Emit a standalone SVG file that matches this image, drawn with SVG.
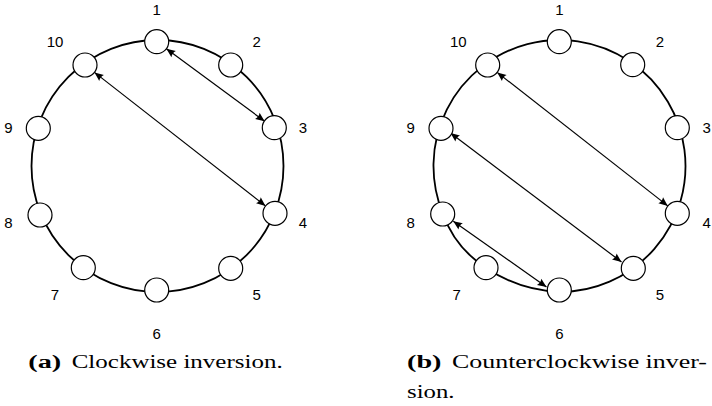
<svg xmlns="http://www.w3.org/2000/svg" width="712" height="406" viewBox="0 0 712 406">
<style>
.ring{fill:none;stroke:#000;stroke-width:1.8}
.node{fill:#fff;stroke:#000;stroke-width:1.2}
.lbl{font-family:"Liberation Sans",Arial,sans-serif;font-size:15px;fill:#000;text-anchor:middle}
.cap{font-family:"Liberation Serif","Times New Roman",serif;font-size:18.5px;fill:#000}
.capb{font-family:"Liberation Serif","Times New Roman",serif;font-size:18.5px;font-weight:bold;fill:#000}
.arr{fill:none;stroke:#000;stroke-width:1.2;marker-start:url(#ah);marker-end:url(#ah)}
</style>
<defs>
<marker id="ah" viewBox="-10 -5 11 10" refX="0" refY="0" markerWidth="11" markerHeight="10" markerUnits="userSpaceOnUse" orient="auto-start-reverse">
<path d="M0,0 L-9,-3.8 Q-7,0 -9,3.8 Z" fill="#000"/>
</marker>
</defs>

<!-- Panel (a) -->
<g id="panel-a">
<circle class="ring" cx="157.5" cy="166" r="126"/>
<g id="connectors-a">
<line class="arr" x1="166.4" y1="48.8" x2="264.6" y2="121.2"/>
<line class="arr" x1="94.5" y1="72.4" x2="265.5" y2="205.9"/>
</g>
<g id="a-n1"><circle class="node" cx="156.7" cy="41.7" r="12"/><text class="lbl" x="156.7" y="15.2">1</text></g>
<g id="a-n2"><circle class="node" cx="230.7" cy="65" r="12"/><text class="lbl" x="256.7" y="47.1">2</text></g>
<g id="a-n3"><circle class="node" cx="274.3" cy="127.7" r="12"/><text class="lbl" x="303" y="133.4">3</text></g>
<g id="a-n4"><circle class="node" cx="275" cy="213.3" r="12"/><text class="lbl" x="303" y="228.1">4</text></g>
<g id="a-n5"><circle class="node" cx="230.7" cy="268.3" r="12"/><text class="lbl" x="256.7" y="300.4">5</text></g>
<g id="a-n6"><circle class="node" cx="156.7" cy="290" r="12"/><text class="lbl" x="156.7" y="338.7">6</text></g>
<g id="a-n7"><circle class="node" cx="83.3" cy="267.7" r="12"/><text class="lbl" x="55" y="300.4">7</text></g>
<g id="a-n8"><circle class="node" cx="40" cy="215" r="12"/><text class="lbl" x="8.3" y="228.1">8</text></g>
<g id="a-n9"><circle class="node" cx="38.3" cy="128.3" r="12"/><text class="lbl" x="8.3" y="133.1">9</text></g>
<g id="a-n10"><circle class="node" cx="85" cy="65" r="12"/><text class="lbl" x="55" y="47.1">10</text></g>
<text class="capb" x="28.3" y="368" textLength="33" lengthAdjust="spacingAndGlyphs">(a)</text>
<text class="cap" x="71.7" y="368" textLength="211" lengthAdjust="spacingAndGlyphs">Clockwise inversion.</text>
</g>

<!-- Panel (b) -->
<g id="panel-b">
<path class="ring" d="M442.7,213.3 A126,126 0 1 1 560,292 Q519,290.4 486,267.7 Q455,248 442.7,213.3"/>
<g id="connectors-b">
<line class="arr" x1="497.2" y1="72.4" x2="667.8" y2="205.9"/>
<line class="arr" x1="450.5" y1="133" x2="621.5" y2="262"/>
<line class="arr" x1="453.3" y1="221.2" x2="546.5" y2="287"/>
</g>
<g id="b-n1"><circle class="node" cx="559.3" cy="41.7" r="12"/><text class="lbl" x="559.3" y="15.4">1</text></g>
<g id="b-n2"><circle class="node" cx="632.7" cy="64.7" r="12"/><text class="lbl" x="660" y="47.1">2</text></g>
<g id="b-n3"><circle class="node" cx="677.3" cy="127.7" r="12"/><text class="lbl" x="706.7" y="133.1">3</text></g>
<g id="b-n4"><circle class="node" cx="677.3" cy="213.3" r="12"/><text class="lbl" x="706.7" y="228.1">4</text></g>
<g id="b-n5"><circle class="node" cx="633.3" cy="268.3" r="12"/><text class="lbl" x="660" y="300.4">5</text></g>
<g id="b-n6"><circle class="node" cx="559.3" cy="290" r="12"/><text class="lbl" x="559.3" y="338.7">6</text></g>
<g id="b-n7"><circle class="node" cx="486" cy="267.7" r="12"/><text class="lbl" x="456.7" y="300.4">7</text></g>
<g id="b-n8"><circle class="node" cx="442.7" cy="214" r="12"/><text class="lbl" x="410.7" y="228.1">8</text></g>
<g id="b-n9"><circle class="node" cx="441" cy="128.3" r="12"/><text class="lbl" x="410.7" y="133.1">9</text></g>
<g id="b-n10"><circle class="node" cx="487.7" cy="65" r="12"/><text class="lbl" x="458.3" y="47.1">10</text></g>
<text class="capb" x="407" y="368" textLength="34.5" lengthAdjust="spacingAndGlyphs">(b)</text>
<text class="cap" x="452" y="368" textLength="255" lengthAdjust="spacingAndGlyphs">Counterclockwise  inver-</text>
<text class="cap" x="407" y="397.5" textLength="47.5" lengthAdjust="spacingAndGlyphs">sion.</text>
</g>
</svg>
